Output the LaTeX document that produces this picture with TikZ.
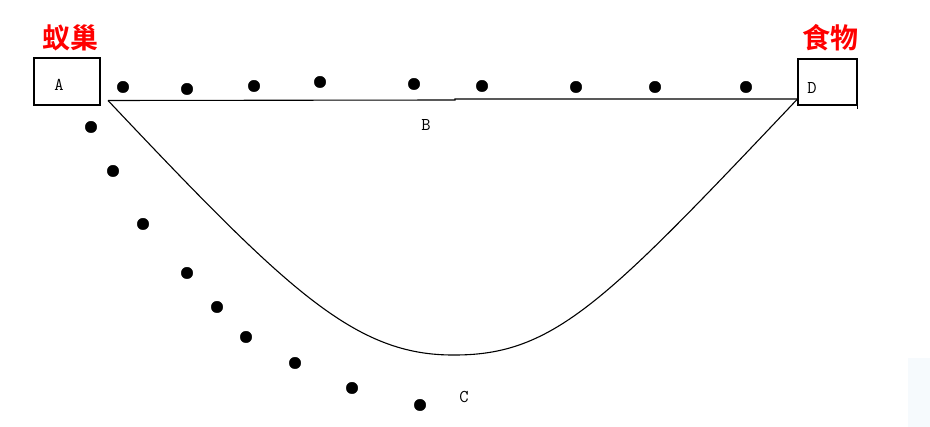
\documentclass[tikz,border=0pt]{standalone}
\usepackage{fontspec}
\newfontfamily\cjk{Noto Sans CJK SC Bold}
\tikzset{
  boxnode/.style={draw=black, line width=1.3pt, inner sep=0pt},
  letter/.style={font=\ttfamily\fontsize{18}{18}\selectfont, inner sep=0pt},
  cnlabel/.style={font=\cjk\fontsize{28}{28}\selectfont, text=red, inner sep=0pt},
  ant/.style={circle, fill=black, draw=black, line width=0.4pt, minimum size=11.5pt, inner sep=0pt},
  path line/.style={draw=black, line width=1.1pt}
}
\begin{document}
\begin{tikzpicture}[x=1pt,y=-1pt]
\useasboundingbox (0,0) rectangle (930,427);
\fill[fill=white] (0,0) rectangle (930,427);
\fill[fill={rgb,255:red,246;green,250;blue,253}] (908,358) rectangle (930,427);

% boxes
\node[boxnode, minimum width=66pt, minimum height=47pt] (boxA) at (67,81.5) {};
\node[boxnode, minimum width=59pt, minimum height=46pt] (boxD) at (827.5,82) {};
\draw[line width=1.3pt] (boxD.south east) -- ++(0,3);
\node[letter] (lA) at (59,85) {A};
\node[letter] (lD) at (812,88) {D};
\node[letter] (lB) at (426,125) {B};
\node[letter] (lC) at (464,397) {C};

% Chinese labels
\node[cnlabel] (nest) at (70,38) {蚁巢};
\node[cnlabel] (food) at (830,38) {食物};

% paths
\coordinate (start) at (108,100.5);
\coordinate (mid) at (455,100);
\coordinate (midb) at (455,99);
\coordinate (endD) at (797.5,99);
\coordinate (bottom) at (455,355);
\draw[path line] (start) -- (mid) -- (midb) -- (endD);
\draw[path line] (start) .. controls (288,291) and (355,356) .. (bottom)
  .. controls (555,355) and (607,300) .. (endD);

% ants on upper path
\foreach \x/\y [count=\i] in {123/87, 187/89, 254/86, 320/82, 414/84, 482/86, 576/87, 655/87, 746/87}
  \node[ant] (u\i) at (\x,\y) {};
% ants on lower path
\foreach \x/\y [count=\i] in {91/127, 113/171, 143/224, 187/273, 217/307, 246/337, 295/363, 352/388, 420/405}
  \node[ant] (l\i) at (\x,\y) {};
\end{tikzpicture}
\end{document}
